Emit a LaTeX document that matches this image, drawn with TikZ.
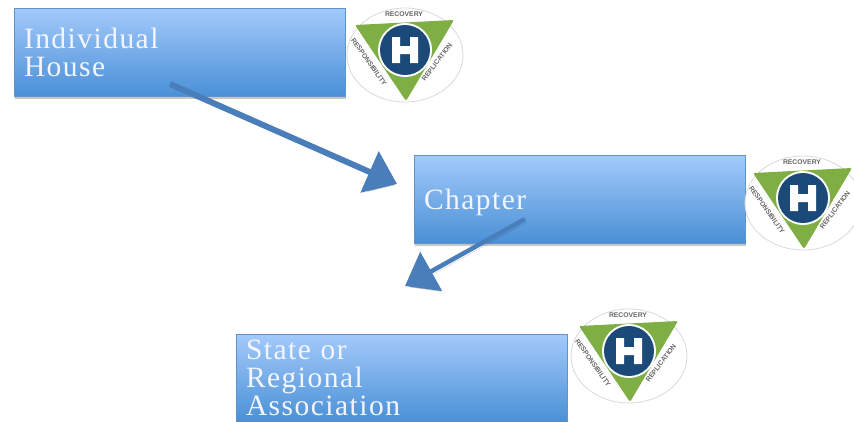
\documentclass[tikz,border=0pt]{standalone}
\usepackage{fontspec}
\setmainfont{Liberation Serif}
\newfontfamily\boxfont[LetterSpace=5]{Liberation Serif}
\newfontfamily\logofont{Liberation Sans}
\usepackage{xcolor}
\usepackage{tikz}
\usetikzlibrary{positioning, arrows.meta, shadows}
\definecolor{boxtop}{HTML}{A3CAFB}
\definecolor{boxbottom}{HTML}{4A90D6}
\definecolor{boxedge}{HTML}{5F93CC}
\definecolor{arrowblue}{HTML}{4A7EBB}
\definecolor{logogreen}{HTML}{7FAE45}
\definecolor{logoblue}{HTML}{1C4A78}

\tikzset{
    hlogo/.pic={
        \draw[draw=black!15, fill=white, line width=0.8pt] (0,0) ellipse (58pt and 47pt);
        \fill[logogreen, rounded corners=2pt] (-50pt,30pt) -- (49pt,35pt) -- (1pt,-46pt) -- cycle;
        \fill[white] (0,5pt) circle (27pt);
        \fill[logoblue] (0,5pt) circle (25pt);
        \fill[white] (-13pt,18pt) -- (-5pt,18pt) -- (-5pt,9pt) -- (5pt,9pt) -- (5pt,18pt) -- (13pt,18pt)
            -- (13pt,-8pt) -- (5pt,-8pt) -- (5pt,1pt) -- (-5pt,1pt) -- (-5pt,-8pt) -- (-13pt,-8pt) -- cycle;
        \node[logotext] at (-1pt,41pt) {RECOVERY};
        \node[logotext, rotate=-55] at (-36pt,-7pt) {RESPONSIBILITY};
        \node[logotext, rotate=53] at (32pt,-7pt) {REPLICATION};
    }
}

\begin{document}
\begin{tikzpicture}[
        x=1pt, y=1pt,
        levelbox/.style={rectangle, draw=boxedge, line width=0.8pt, top color=boxtop, bottom color=boxbottom,
            minimum width=331pt, minimum height=88pt, inner sep=0pt, outer sep=0pt, text=white!96!blue,
            text width=311pt, align=left, font=\boxfont\fontsize{29.5}{28}\selectfont,
            drop shadow={shadow xshift=1pt, shadow yshift=-2.5pt, opacity=0.45}},
        logotext/.style={inner sep=0pt, text=black!60, font=\logofont\bfseries\fontsize{6.8}{7}\selectfont},
        arrow/.style={-{Triangle[length=30pt, width=44pt]}, arrowblue,
            preaction={draw=black, opacity=0.2, transform canvas={shift={(2pt,-3pt)}}}}
    ]
    \useasboundingbox (0,0) rectangle (854,-421);

    % Levels
    \node[levelbox, anchor=north west] (house) at (14,-8) {Individual\\House};
    \node[levelbox, below right=59pt and 69pt of house] (chapter) {\rule{0pt}{27pt}Chapter};
    \node[levelbox, below left=91pt and -153pt of chapter] (association) {State or\\Regional\\Association};

    % Logos
    \coordinate[right=60pt of house, yshift=-3pt] (houselogo);
    \coordinate[right=58pt of chapter, yshift=-4pt] (chapterlogo);
    \coordinate[right=62pt of association, yshift=22pt] (associationlogo);
    \pic at (houselogo) {hlogo};
    \pic at (chapterlogo) {hlogo};
    \pic at (associationlogo) {hlogo};

    % Arrows
    \coordinate (housestart) at (170,-84);
    \coordinate (chapterend) at (397,-184);
    \coordinate (chapterstart) at (525,-219);
    \coordinate (associationend) at (405,-286);
    \draw[arrow, line width=6pt] (housestart) -- (chapterend);
    \draw[arrow, line width=4.5pt] (chapterstart) -- (associationend);

\end{tikzpicture}
\end{document}
